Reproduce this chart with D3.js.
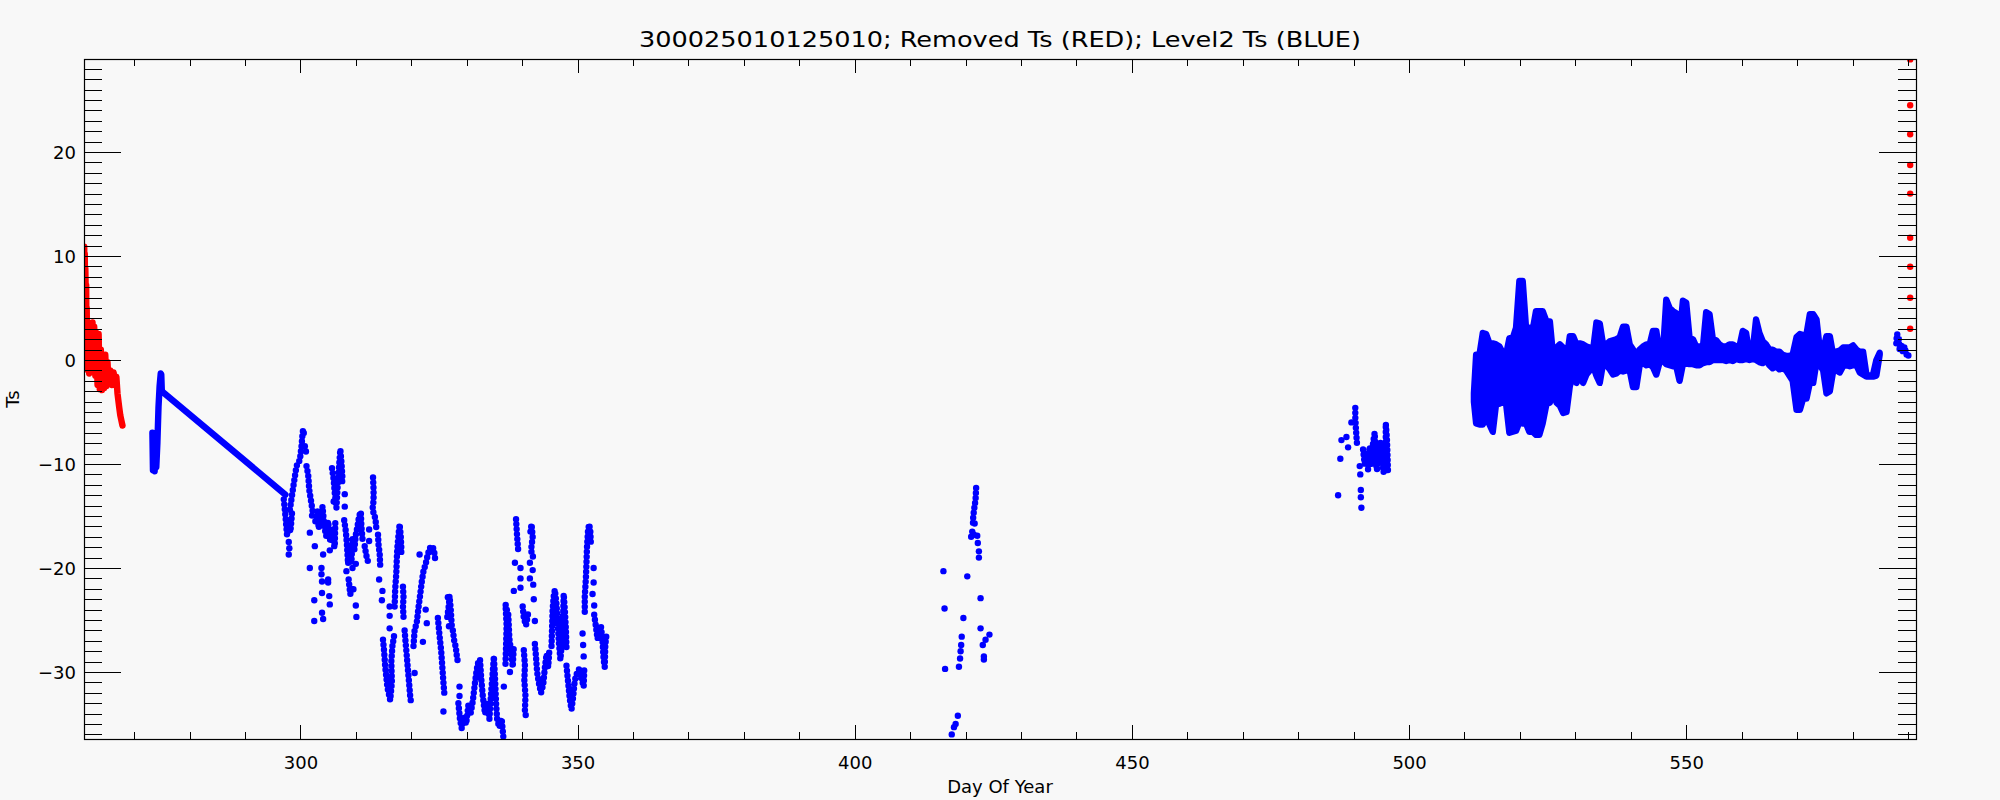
<!DOCTYPE html>
<html>
<head>
<meta charset="utf-8">
<script src="https://cdn.jsdelivr.net/npm/d3@7"></script>
<style>
  body { margin: 0; background: #f8f8f8; }
  svg { display: block; }
  text { font-family: "DejaVu Sans", sans-serif; fill: #000; }
</style>
</head>
<body>
<svg id="chart" width="2000" height="800"></svg>
<script>
// ---- data (day of year, Ts) ----
const titleText = "300025010125010; Removed Ts (RED); Level2 Ts (BLUE)";
const xMajorTicks = [300, 350, 400, 450, 500, 550];
const yMajorTicks = [-30, -20, -10, 0, 10, 20];

// removed values at the start (dense, drawn as a run)
const redStart = [[261.0,10.9],[261.05,6.5],[261.1,10.2],[261.15,6.0],[261.2,8.8],[261.3,5.8],[261.35,7.2],
  [261.4,2.0],[261.45,5.0],[261.5,1.6],[261.6,3.4],[261.7,-1.0],[261.8,2.8],[261.9,-1.3],[262.1,2.2],
  [262.3,-0.6],[262.5,3.6],[262.7,-0.8],[262.8,3.2],[263.0,-1.5],[263.2,2.6],[263.4,-2.4],[263.6,2.5],
  [263.8,-2.8],[264.0,1.0],[264.2,-2.9],[264.4,0.5],[264.6,-2.7],[264.8,0.5],[265.0,-2.5],[265.2,-0.2],
  [265.4,-2.2],[265.7,-1.0],[266.0,-2.4],[266.3,-1.2],[266.6,-2.4],[266.8,-1.6],[267.0,-3.2],[267.3,-4.5],
  [267.5,-5.3],[267.7,-5.8],[267.9,-6.3]];
// removed values at the end (single points)
const redEnd = [[590.4,28.9],[590.4,24.5],[590.4,21.7],[590.4,18.75],[590.4,16.0],[590.4,11.76],
  [590.4,8.97],[590.4,5.99],[590.4,3.0]];

// first level2 stretch: short column, then the long straight run to day 297
const blueLineRun = [[273.3,-7.0],[273.4,-10.6],[273.6,-7.3],[273.7,-10.7],[273.9,-8.5],[274.0,-10.3],[274.2,-8.0],
  [274.4,-4.5],[274.6,-2.5],[274.8,-1.3],[274.9,-1.4],[275.0,-3.0],[297.3,-12.95]];

// runs of consecutive blue observations (dots close together)
const blueRuns = [
  [[297.0,-13.4],[297.3,-15.0],[297.6,-16.9],[297.9,-15.5],[298.2,-16.5],[298.5,-14.6]],
  [[298.1,-14.4],[298.6,-12.6],[299.0,-11.2],[299.3,-10.2],[299.9,-9.6],[300.2,-8.3],[300.4,-7.0],[300.5,-6.7],[300.7,-7.3]],
  [[301.1,-10.2],[301.4,-11.0],[301.6,-12.5],[301.9,-13.5],[302.2,-14.5],[302.0,-15.4]],
  [[302.7,-15.5],[303.1,-14.5],[303.3,-16.2],[303.6,-15.0],[304.0,-14.1],[304.3,-16.0],[304.7,-17.0],[305.0,-15.5],
   [305.4,-17.5],[305.8,-16.2],[306.2,-17.8],[306.3,-15.5]],
  [[305.7,-10.4],[306.0,-11.5],[306.2,-12.8],[306.5,-14.2],[306.7,-12.3],[306.9,-10.8],[307.2,-8.6],[307.4,-9.8],
   [307.6,-11.5],[307.4,-12.0]],
  [[307.9,-15.4],[308.2,-16.5],[308.4,-17.8],[308.6,-19.6],[308.9,-18.0],[309.2,-19.5],[309.4,-17.2],[309.7,-18.4],
   [310.0,-16.8],[310.3,-16.0],[310.6,-15.0],[310.9,-14.6],[311.0,-16.0],[311.2,-17.2]],
  [[311.6,-17.9],[311.9,-18.8],[312.3,-19.6]],
  [[308.7,-21.1],[309.0,-22.5],[309.4,-21.8],[309.8,-22.4]],
  [[313.1,-11.3],[313.2,-12.5],[313.2,-13.5],[313.0,-14.4],[313.4,-15.0],[313.6,-15.6],[313.7,-16.2]],
  [[314.0,-16.8],[314.1,-17.8],[314.3,-18.6],[314.4,-19.8]],
  [[314.9,-26.9],[315.1,-28.0],[315.3,-29.5],[315.5,-30.5],[315.7,-31.5],[316.0,-32.2],[316.2,-32.7],[316.5,-31.0],
   [316.4,-29.0],[316.6,-27.5],[316.9,-26.5]],
  [[317.0,-23.7],[317.1,-22.0],[317.3,-20.5],[317.4,-19.0],[317.5,-18.0],[317.7,-16.8],[317.9,-15.8],[318.1,-16.9],
   [318.2,-18.0],[318.2,-18.8]],
  [[318.5,-21.8],[318.6,-22.8],[318.5,-23.7],[318.6,-24.7]],
  [[318.8,-26.0],[319.0,-27.3],[319.2,-28.5],[319.4,-29.8],[319.6,-31.0],[319.8,-32.3],[320.0,-33.1]],
  [[320.4,-27.5],[320.6,-26.0],[321.0,-25.2],[321.3,-23.8],[321.6,-22.6],[321.9,-21.3],[322.2,-20.3],[322.6,-19.6],
   [322.9,-18.9],[323.3,-18.1],[323.8,-17.9],[324.1,-18.3],[324.4,-19.5]],
  [[324.8,-24.8],[325.1,-26.5],[325.4,-28.0],[325.6,-29.5],[325.8,-31.0],[326.0,-32.3]],
  [[326.5,-24.7],[326.8,-23.5],[326.9,-22.7],[327.1,-23.8],[327.3,-25.5]],
  [[327.5,-26.0],[327.8,-27.2],[328.0,-27.5],[328.3,-28.8],[328.6,-29.1]],
  [[328.5,-33.0],[328.8,-34.6],[329.1,-35.4],[329.5,-34.2],[329.9,-35.0],[330.3,-33.2],[330.7,-34.0],[331.1,-32.8],
   [331.5,-31.0],[331.8,-29.8],[332.1,-29.0],[332.4,-28.8],[332.6,-30.5],[332.9,-32.3],[333.3,-34.0],[333.7,-33.0],
   [334.1,-34.5],[334.4,-32.0],[334.7,-30.0],[334.9,-28.5],[335.1,-30.5],[335.3,-33.0],[335.5,-34.6],[335.9,-35.3],
   [336.3,-34.5],[336.6,-36.2]],
  [[337.0,-29.2],[337.1,-27.5],[337.2,-25.5],[337.0,-23.5],[337.5,-24.5],[337.7,-26.8],[338.0,-28.0],[338.3,-29.5],[338.5,-27.5]],
  [[338.9,-15.3],[339.0,-16.2],[339.1,-17.0],[339.3,-18.4]],
  [[340.1,-23.7],[340.3,-24.8],[340.7,-25.5],[341.1,-24.3]],
  [[340.3,-27.9],[340.5,-29.3],[340.4,-30.8],[340.6,-32.3],[340.5,-33.7],[340.8,-34.6]],
  [[341.5,-16.5],[341.7,-15.8],[341.9,-17.0],[341.6,-18.3],[342.0,-19.0]],
  [[342.3,-27.3],[342.5,-28.5],[342.7,-30.0],[343.0,-31.0],[343.4,-32.0],[343.8,-31.2],[344.1,-29.6],[344.4,-28.3],
   [344.7,-29.5],[344.9,-28.0]],
  [[345.3,-27.5],[345.4,-25.8],[345.5,-24.0],[345.7,-22.7],[345.9,-22.1],[346.2,-23.5],[346.4,-25.0],[346.6,-27.0],
   [346.9,-28.8],[347.2,-27.0],[347.4,-24.5],[347.5,-22.5],[347.7,-24.0],[347.9,-26.0],[348.0,-27.8]],
  [[348.0,-29.4],[348.3,-31.0],[348.6,-32.6],[348.9,-33.6],[349.2,-32.4],[349.5,-30.8],[349.9,-30.1],[350.3,-29.7],
   [350.7,-30.6],[351.1,-31.4],[351.2,-29.8]],
  [[351.3,-24.2],[351.3,-22.7],[351.5,-21.0],[351.6,-19.6],[351.7,-18.0],[351.9,-16.3],[352.1,-15.8],[352.3,-16.5],[352.4,-17.7]],
  [[353.0,-24.5],[353.3,-25.6],[353.6,-26.8],[353.9,-26.0],[354.2,-25.5],[354.5,-27.0],[354.7,-28.8],[354.9,-29.5],
   [355.0,-27.4],[355.2,-26.5]],
  [[421.9,-12.3],[421.8,-13.4],[421.5,-14.5],[421.3,-15.5],[421.4,-15.9],[421.9,-15.5]],
  [[490.3,-4.6],[490.3,-5.5],[490.4,-6.5],[490.5,-7.3],[490.6,-8.0],[491.0,-7.9],[491.3,-8.0]],
  [[491.7,-8.6],[492.0,-10.0],[492.3,-8.8],[492.6,-10.5],[492.9,-8.3],[493.2,-10.2],[493.5,-8.0],[493.8,-7.0],
   [494.0,-9.5],[494.2,-10.6],[494.5,-8.8],[494.8,-7.8],[495.1,-9.5],[495.4,-10.8],[495.7,-9.0],[495.8,-7.5],
   [495.8,-6.1],[496.0,-7.5],[496.1,-9.0],[496.2,-10.8]],
  [[587.9,1.6],[588.0,2.5],[588.3,2.3],[588.5,1.0],[588.8,1.6],[589.1,0.8],[589.4,1.3],[589.7,0.5],[590.0,0.7],[590.2,0.0]]
];

// isolated blue observations
const blueDots = [[297.9,-17.5],[298.0,-18.1],[297.9,-18.7],[300.8,-8.3],[301.0,-8.8],[301.7,-16.6],[301.7,-20.0],
  [302.5,-23.1],[302.5,-25.1],[302.6,-17.9],[304.1,-18.7],[305.3,-18.3],[306.1,-17.9],[303.8,-20.0],[303.8,-20.6],
  [303.9,-21.3],[305.0,-21.1],[305.0,-21.4],[303.9,-22.4],[305.2,-22.7],[305.3,-23.5],[303.9,-24.3],[304.1,-24.9],
  [308.0,-12.9],[308.0,-14.1],[306.0,-13.6],[308.3,-20.3],[309.4,-20.0],[310.0,-19.6],[310.0,-23.6],[310.1,-24.7],
  [312.4,-16.3],[312.4,-17.4],[314.2,-21.1],[314.8,-22.2],[314.7,-23.1],[316.1,-23.7],[316.1,-24.6],[316.1,-25.8],
  [320.6,-30.1],[321.5,-18.7],[322.1,-27.1],[322.6,-24.0],[322.8,-25.3],[325.8,-33.8],[326.6,-22.8],[326.7,-24.3],
  [326.8,-25.6],[328.7,-31.4],[328.7,-32.3],[336.7,-31.4],[337.8,-30.0],[338.7,-19.5],[338.5,-22.2],[339.7,-20.0],
  [339.7,-21.0],[339.7,-21.9],[341.4,-19.5],[341.9,-20.2],[341.4,-21.0],[342.0,-21.6],[342.1,-23.0],[342.3,-25.1],
  [350.9,-26.3],[351.0,-27.4],[351.1,-28.5],[352.9,-20.0],[352.9,-21.4],[352.7,-22.5],[353.0,-23.6],
  [416.0,-20.3],[416.2,-23.9],[416.3,-29.7],[417.5,-36.0],[417.9,-35.3],[418.2,-35.0],[418.6,-34.2],[418.8,-29.5],
  [419.0,-28.7],[419.1,-28.0],[419.2,-27.4],[419.3,-26.6],[419.6,-24.8],[420.3,-20.8],[421.2,-16.5],[421.0,-17.0],
  [421.5,-16.8],[422.1,-16.9],[422.2,-17.6],[422.4,-18.4],[422.4,-19.0],[422.7,-22.9],[422.7,-25.8],[424.3,-26.4],
  [423.6,-26.9],[423.1,-27.4],[423.3,-28.5],[423.3,-28.8],
  [487.2,-13.0],[487.6,-9.5],[487.8,-7.7],[488.7,-7.4],[489.0,-8.4],[489.6,-6.0],[491.3,-12.5],[491.3,-13.2],
  [491.4,-14.2],[491.1,-10.2],[491.2,-11.0]];

// the dense day 512-585 record: daily spread (high / low) per half day
const bandDays = [511.7,512.1,512.7,513.3,513.9,514.5,515.1,515.7,516.3,516.9,517.5,518.1,518.7,519.3,519.9,520.5,
  521.1,521.7,522.3,522.9,523.5,524.1,524.8,525.4,526.0,526.6,527.2,527.8,528.4,529.0,529.6,530.2,530.8,531.4,532.0,
  532.6,533.2,533.8,534.4,535.0,535.6,536.2,536.8,537.4,538.0,538.6,539.2,539.8,540.4,541.0,541.6,542.2,542.8,543.4,
  544.0,544.6,545.2,545.8,546.4,547.0,547.6,548.2,548.8,549.4,550.0,550.6,551.2,551.8,552.4,553.0,553.6,554.2,554.8,
  555.4,556.0,556.6,557.2,557.8,558.4,559.0,559.6,560.2,560.8,561.4,562.0,562.6,563.2,563.8,564.4,565.0,565.6,566.2,
  566.8,567.4,568.0,568.6,569.2,569.9,570.5,571.1,571.7,572.3,572.9,573.5,574.1,574.7,575.3,575.9,576.5,577.1,577.7,
  578.3,578.9,579.5,580.1,580.7,581.3,581.9,582.5,583.1,583.7,584.3,584.9];
const bandHigh = [-3.2,0.5,0.5,2.6,2.5,1.6,1.6,1.5,1.3,0.7,0.5,2.1,2.1,3.1,7.6,7.6,
  3.1,3.1,2.9,4.7,4.7,4.7,3.7,3.7,0.3,1.2,1.5,1.2,0.0,2.3,2.3,1.5,1.6,1.5,1.3,
  1.2,1.0,3.6,3.5,1.5,1.5,1.8,1.9,2.0,2.2,3.2,3.2,1.5,1.0,0.5,1.0,1.3,1.5,1.5,
  2.8,2.8,0.7,0.7,5.8,5.0,4.7,4.5,2.3,5.7,5.5,2.1,2.0,1.3,1.3,1.2,4.6,4.4,2.0,
  1.9,1.5,1.3,1.3,1.5,1.5,1.3,1.3,2.8,2.6,0.5,1.0,3.9,2.6,1.8,1.5,1.0,1.0,0.8,
  0.8,0.5,0.4,0.4,0.5,2.2,2.5,2.4,2.5,4.4,4.4,3.9,1.0,1.0,2.3,2.3,0.5,0.8,0.9,
  1.2,1.2,1.2,1.4,1.0,0.8,0.8,-1.4,-1.5,-1.4,0.0,0.7];
const bandLow = [-4.0,-6.1,-6.2,-6.2,-5.5,-6.2,-6.9,-4.2,-4.2,-4.0,-4.2,-7.0,-6.9,-6.8,-6.0,-6.1,
  -6.1,-6.9,-6.9,-7.2,-7.2,-6.1,-4.2,-4.1,-2.5,-4.1,-4.4,-5.1,-5.0,-2.5,-1.5,-2.2,-1.5,-2.2,-1.4,
  -1.0,-0.6,-1.5,-2.2,-0.3,-0.5,-0.9,-1.4,-1.3,-1.0,-1.1,-1.0,-1.0,-2.6,-2.6,-0.5,-0.3,-0.5,-0.4,
  -0.7,-1.4,-0.2,-0.1,-0.4,-0.5,-0.6,-0.6,-2.0,-0.4,-0.3,-0.4,-0.4,-0.5,-0.5,-0.3,-0.2,-0.2,0.0,
  0.0,0.0,0.0,-0.1,0.0,-0.1,0.1,0.0,0.0,0.1,0.0,0.1,0.0,-0.2,-0.3,0.0,-0.5,-0.8,-0.6,
  -0.9,-0.8,-1.0,-1.5,-2.0,-4.8,-4.8,-3.7,-3.7,-2.2,-2.2,-0.2,-0.5,-1.0,-3.2,-3.0,-1.1,-1.0,-1.2,
  -0.6,-0.5,-0.6,-0.5,-0.5,-1.2,-1.4,-1.6,-1.6,-1.6,-1.5,0.5];

// ---- chart ----
const width = 2000, height = 800;
const plot = { left: 84, right: 1916, top: 59, bottom: 739 };
const blue = "#0000ff", red = "#ff0000";
const dotR = 3.2;

const svg = d3.select("#chart");
svg.append("rect").attr("width", width).attr("height", height).attr("fill", "#f8f8f8");

const x = d3.scaleLinear().domain([260.96, 591.45]).range([plot.left, plot.right]);
const y = d3.scaleLinear().domain([-36.44, 28.94]).range([plot.bottom, plot.top]);

svg.append("clipPath").attr("id", "plotClip")
  .append("rect")
  .attr("x", plot.left).attr("y", plot.top)
  .attr("width", plot.right - plot.left).attr("height", plot.bottom - plot.top);

const marks = svg.append("g").attr("clip-path", "url(#plotClip)");

let line = d3.line().x(d => x(d[0])).y(d => y(d[1]));

// band of the dense level2 record
let band = bandDays.map((d, i) => ({ day: d, high: bandHigh[i], low: bandLow[i] }));
let area = d3.area().x(d => x(d.day)).y0(d => y(d.low)).y1(d => y(d.high));
marks.append("path")
  .datum(band)
  .attr("d", area)
  .attr("fill", blue)
  .attr("stroke", blue)
  .attr("stroke-width", dotR * 2)
  .attr("stroke-linejoin", "round");

marks.append("path")
  .datum(blueLineRun)
  .attr("d", line)
  .attr("fill", "none")
  .attr("stroke", blue)
  .attr("stroke-width", dotR * 2)
  .attr("stroke-linejoin", "round")
  .attr("stroke-linecap", "round");

// runs: zero-length dashes with round caps give a chain of touching dots
marks.selectAll(".blueRun")
  .data(blueRuns)
  .enter()
  .append("path")
  .attr("class", "blueRun")
  .attr("d", line)
  .attr("fill", "none")
  .attr("stroke", blue)
  .attr("stroke-width", dotR * 2)
  .attr("stroke-dasharray", "0 5")
  .attr("stroke-linejoin", "round")
  .attr("stroke-linecap", "round");

marks.selectAll(".blueDot")
  .data(blueDots)
  .enter()
  .append("circle")
  .attr("class", "blueDot")
  .attr("cx", d => x(d[0]))
  .attr("cy", d => y(d[1]))
  .attr("r", dotR)
  .attr("fill", blue);

marks.append("path")
  .datum(redStart)
  .attr("d", line)
  .attr("fill", "none")
  .attr("stroke", red)
  .attr("stroke-width", dotR * 2)
  .attr("stroke-linejoin", "round")
  .attr("stroke-linecap", "round");

marks.selectAll(".redDot")
  .data(redEnd)
  .enter()
  .append("circle")
  .attr("class", "redDot")
  .attr("cx", d => x(d[0]))
  .attr("cy", d => y(d[1]))
  .attr("r", dotR)
  .attr("fill", red);

// ---- axes (ticks point inward, IDL style) ----
const xMinorTicks = d3.range(270, 591, 10);
const yMinorTicks = d3.range(-36, 29, 1);
const fmt = d => d < 0 ? "\u2212" + Math.abs(d) : "" + d;

function styleAxis(g) {
  g.select(".domain").remove();
  g.attr("font-family", "DejaVu Sans, sans-serif").attr("font-size", 18).attr("color", "#000");
  g.selectAll("line").attr("stroke-width", 1).attr("shape-rendering", "crispEdges");
}

// bottom
svg.append("g").attr("transform", "translate(0," + plot.bottom + ")")
  .call(d3.axisBottom(x).tickValues(xMinorTicks).tickSize(-7).tickFormat(""))
  .call(styleAxis);
svg.append("g").attr("transform", "translate(0," + plot.bottom + ")")
  .call(d3.axisBottom(x).tickValues(xMajorTicks).tickSize(-14).tickPadding(17).tickFormat(fmt))
  .call(styleAxis);
// top
svg.append("g").attr("transform", "translate(0," + plot.top + ")")
  .call(d3.axisTop(x).tickValues(xMinorTicks).tickSize(-7).tickFormat(""))
  .call(styleAxis);
svg.append("g").attr("transform", "translate(0," + plot.top + ")")
  .call(d3.axisTop(x).tickValues(xMajorTicks).tickSize(-14).tickFormat(""))
  .call(styleAxis);
// left
svg.append("g").attr("transform", "translate(" + plot.left + ",0)")
  .call(d3.axisLeft(y).tickValues(yMinorTicks).tickSize(-18).tickFormat(""))
  .call(styleAxis);
svg.append("g").attr("transform", "translate(" + plot.left + ",0)")
  .call(d3.axisLeft(y).tickValues(yMajorTicks).tickSize(-37).tickPadding(8).tickFormat(fmt))
  .call(styleAxis)
  .selectAll("text").attr("dy", "0.36em");
// right
svg.append("g").attr("transform", "translate(" + plot.right + ",0)")
  .call(d3.axisRight(y).tickValues(yMinorTicks).tickSize(-18).tickFormat(""))
  .call(styleAxis);
svg.append("g").attr("transform", "translate(" + plot.right + ",0)")
  .call(d3.axisRight(y).tickValues(yMajorTicks).tickSize(-37).tickFormat(""))
  .call(styleAxis);

// frame
svg.append("rect")
  .attr("x", plot.left + 0.5).attr("y", plot.top + 0.5)
  .attr("width", plot.right - plot.left).attr("height", plot.bottom - plot.top)
  .attr("fill", "none").attr("stroke", "#000").attr("stroke-width", 1.2);

// ---- texts ----
svg.append("text")
  .attr("x", 1000).attr("y", 47)
  .attr("text-anchor", "middle")
  .attr("font-size", 22)
  .attr("textLength", 722)
  .attr("lengthAdjust", "spacingAndGlyphs")
  .text(titleText);

svg.append("text")
  .attr("x", (plot.left + plot.right) / 2).attr("y", 793)
  .attr("text-anchor", "middle")
  .attr("font-size", 18)
  .text("Day Of Year");

svg.append("text")
  .attr("transform", "translate(19," + ((plot.top + plot.bottom) / 2) + ") rotate(-90)")
  .attr("text-anchor", "middle")
  .attr("font-size", 18)
  .text("Ts");
</script>
</body>
</html>
